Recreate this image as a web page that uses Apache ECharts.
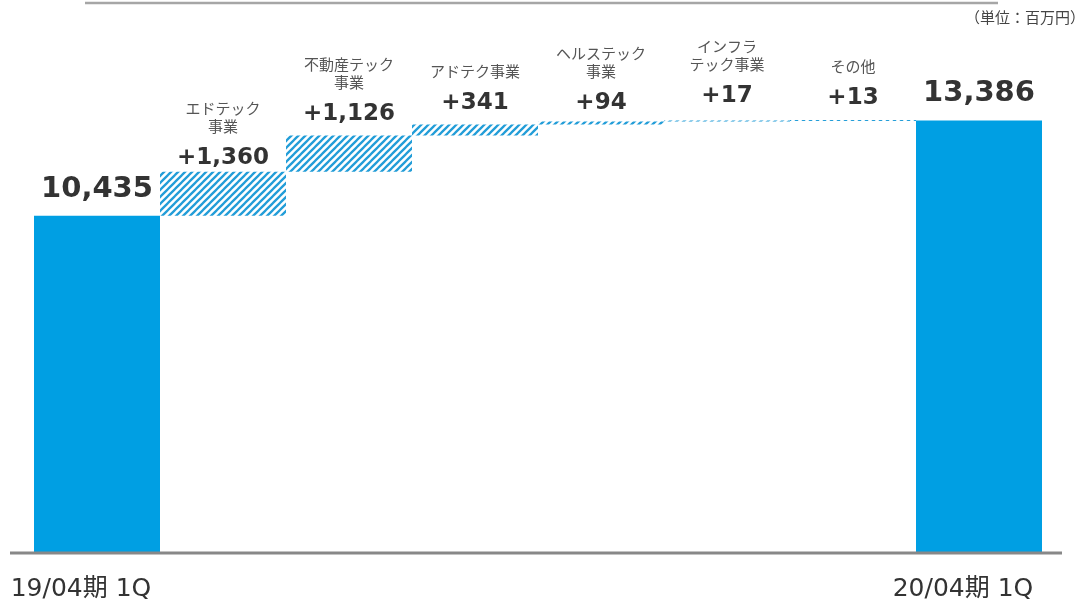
<!DOCTYPE html>
<html>
<head>
<meta charset="utf-8">
<script src="https://cdn.jsdelivr.net/npm/echarts@6/dist/echarts.min.js"></script>
<style>
  html, body { margin: 0; padding: 0; background: #fff; }
  #chart { width: 1087px; height: 599px; }
</style>
</head>
<body>
<div id="chart"></div>
<script>
// Sales bridge: 19/04期 1Q → 20/04期 1Q by business segment (百万円)
const categories = ['19/04期 1Q', 'エドテック\n事業', '不動産テック\n事業', 'アドテク事業', 'ヘルステック\n事業', 'インフラ\nテック事業', 'その他', '20/04期 1Q'];
const values = [10435, 1360, 1126, 341, 94, 17, 13, 13386];
const totalFlags = [true, false, false, false, false, false, false, true];
const unitText = '（単位：百万円）';

// vertical nudges for the value labels (px)
const labelNudge = [-3, 9, 2, 2, 5, -1, 1, -4];

const BLUE = '#009fe3';
const STRIPE = '#229dd8';

// diagonal hatch tile for the increment bars
function hatchTile() {
  const s = 7;
  const c = document.createElement('canvas');
  c.width = s; c.height = s;
  const g = c.getContext('2d');
  g.fillStyle = '#fff';
  g.fillRect(0, 0, s, s);
  g.strokeStyle = STRIPE;
  g.lineWidth = 2.3;
  g.lineCap = 'square';
  g.beginPath();
  for (const k of [-s, 0, s]) {
    g.moveTo(k, s);
    g.lineTo(k + s, 0);
  }
  g.stroke();
  return c;
}

// running bases for the floating bars
const bases = [];
let run = 0;
values.forEach((v, i) => {
  if (totalFlags[i]) { bases.push(0); run = v; }
  else { bases.push(run); run += v; }
});

const fmt = n => n.toLocaleString('en-US');
const pattern = { image: hatchTile(), repeat: 'repeat' };

const visibleData = values.map((v, i) => {
  const total = totalFlags[i];
  const nameLines = total ? [] : categories[i].split('\n').map(t => '{n|' + t + '}');
  const text = nameLines.concat([(total ? '{t|' : '{v|') + (total ? fmt(v) : '+' + fmt(v)) + '}']).join('\n');
  return {
    value: v,
    itemStyle: { color: total ? BLUE : pattern },
    label: { formatter: text, offset: [0, labelNudge[i]] }
  };
});

const chart = echarts.init(document.getElementById('chart'));
chart.setOption({
  animation: false,
  backgroundColor: '#fff',
  grid: { left: 34, right: 45, top: 36, bottom: 46, containLabel: false, outerBoundsMode: 'none' },
  xAxis: {
    type: 'category',
    data: categories,
    axisLine: { show: false },
    axisTick: { show: false },
    axisLabel: {
      interval: (idx) => idx === 0 || idx === categories.length - 1,
      fontFamily: '"DejaVu Sans", "Noto Sans CJK JP", sans-serif',
      fontSize: 25,
      color: '#333',
      margin: 24,
      padding: [0, 32, 0, 0]
    }
  },
  yAxis: { type: 'value', min: 0, max: 16000, show: false, splitLine: { show: false } },
  series: [
    {
      type: 'bar',
      stack: 'w',
      data: bases,
      itemStyle: { color: 'transparent' },
      barCategoryGap: 0,
      silent: true
    },
    {
      type: 'bar',
      stack: 'w',
      data: visibleData,
      barCategoryGap: 0,
      barMinHeight: 1,
      label: {
        show: true,
        position: 'top',
        distance: 0,
        align: 'center',
        rich: {
          n: { fontFamily: '"Noto Sans CJK JP", sans-serif', fontSize: 15, lineHeight: 18, color: '#555' },
          v: { fontFamily: '"DejaVu Sans", sans-serif', fontSize: 23, fontWeight: 'bold', lineHeight: 46, color: '#333' },
          t: { fontFamily: '"DejaVu Sans", sans-serif', fontSize: 29, fontWeight: 'bold', lineHeight: 46, color: '#333' }
        }
      }
    }
  ],
  graphic: [
    { type: 'line', shape: { x1: 85, y1: 3, x2: 998, y2: 3 }, style: { stroke: '#a6a6a6', lineWidth: 2.5 } },
    { type: 'line', shape: { x1: 10, y1: 553, x2: 1062, y2: 553 }, style: { stroke: '#888', lineWidth: 3 }, z: 10 },
    {
      type: 'text', right: 2, top: 10,
      style: { text: unitText, font: '15px "Noto Sans CJK JP", sans-serif', fill: '#444' }
    }
  ]
});
</script>
</body>
</html>
